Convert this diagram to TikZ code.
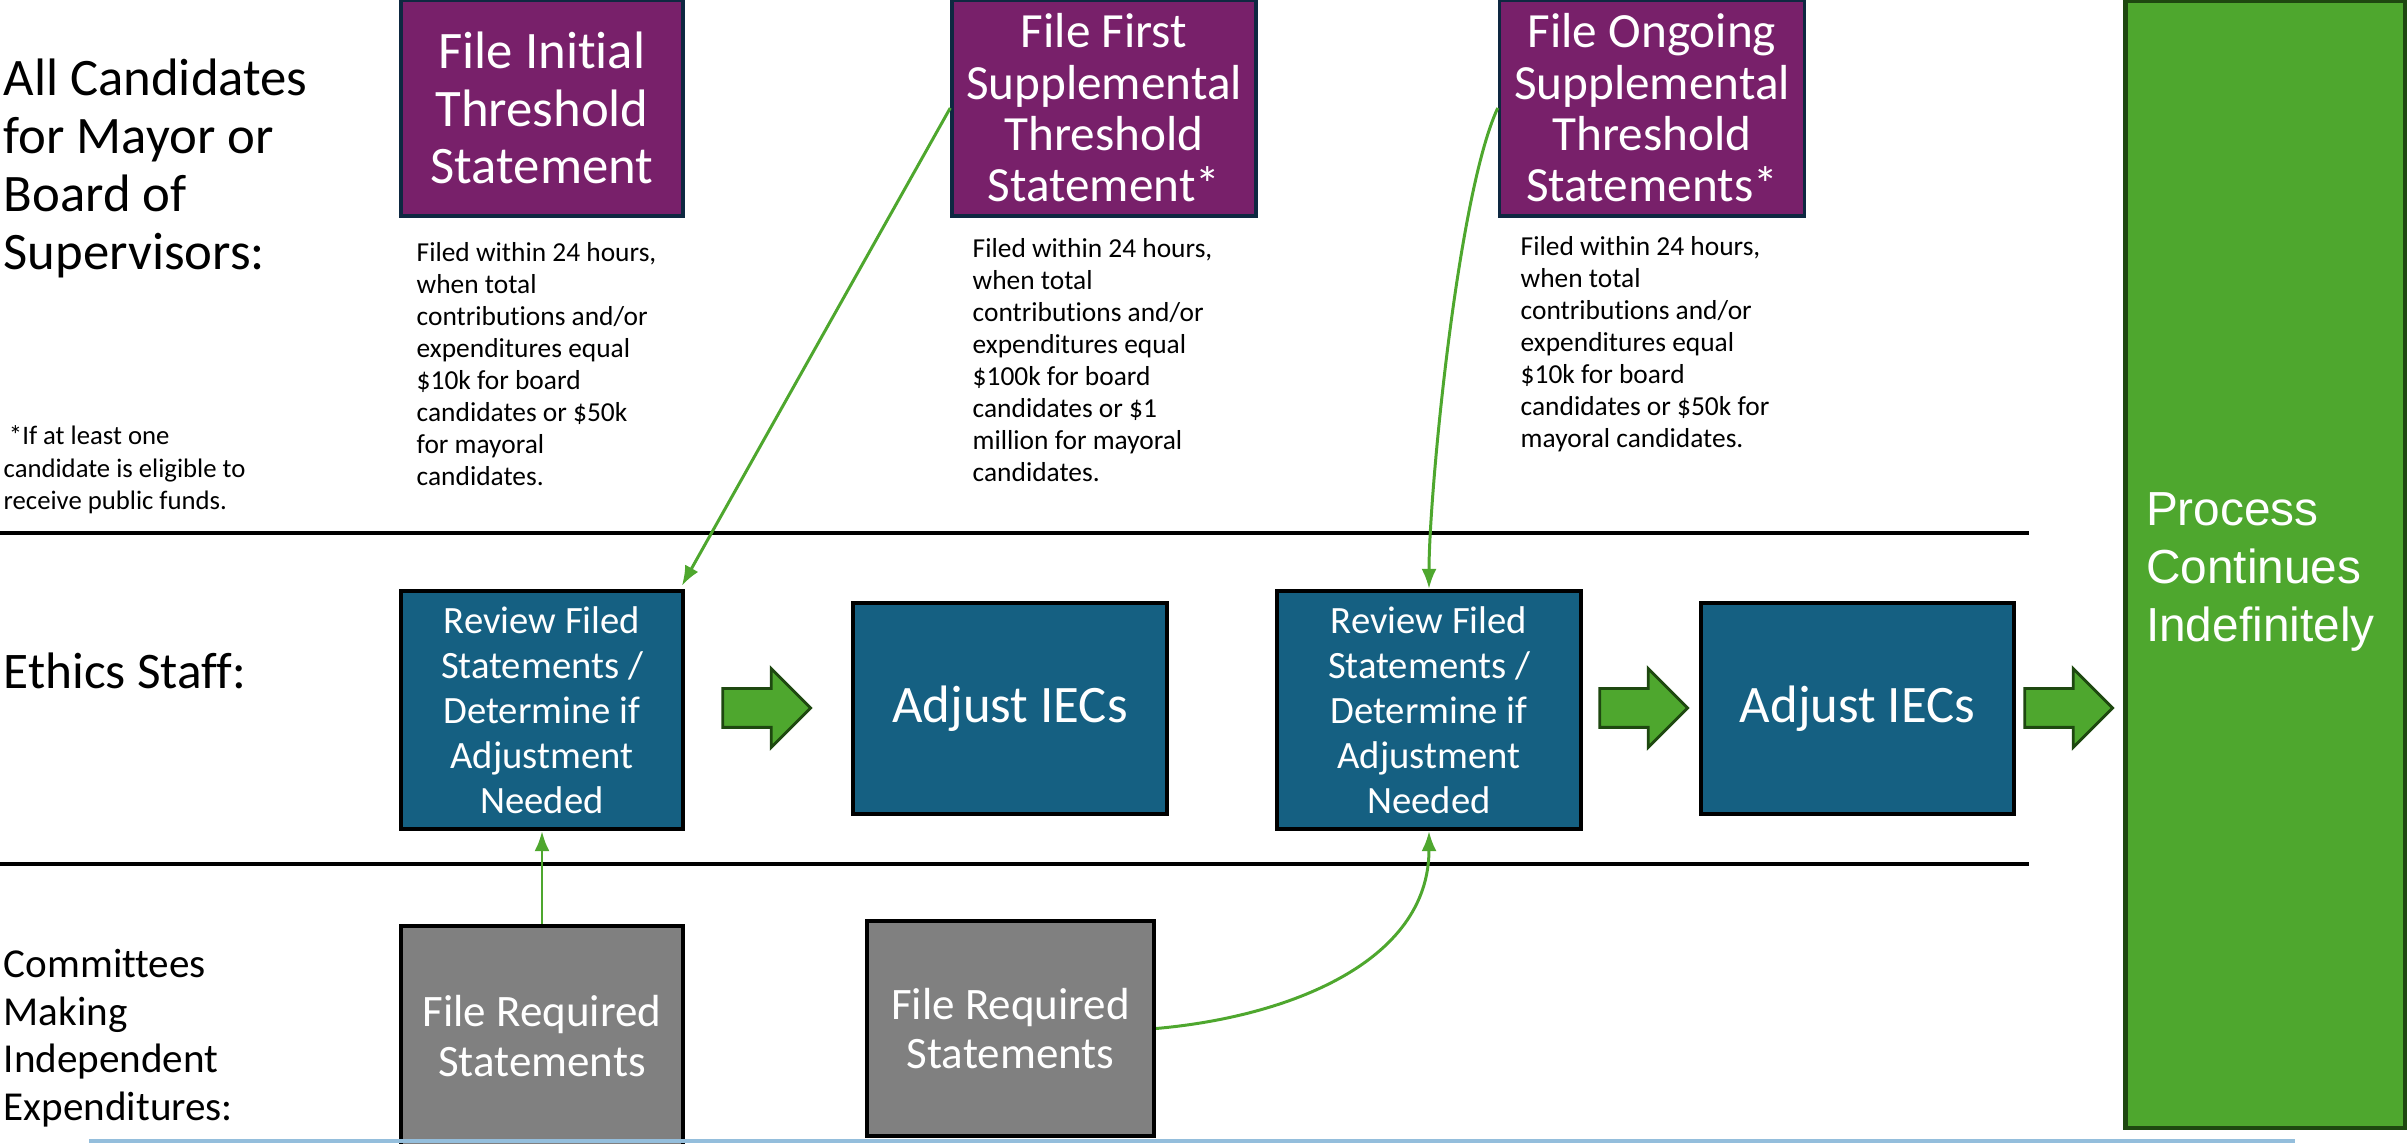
\documentclass[tikz,border=0pt]{standalone}
\usepackage{fontspec}
\setmainfont{Carlito}[Ligatures=CommonOff]
\newfontfamily\procfont{Liberation Sans}
\usepackage{tikz}
\usetikzlibrary{shapes.arrows,arrows.meta,positioning}
\definecolor{ThreshPurple}{RGB}{120,32,106}
\definecolor{ThreshEdge}{RGB}{14,40,65}
\definecolor{StaffBlue}{RGB}{21,96,130}
\definecolor{FileGray}{RGB}{128,128,128}
\definecolor{ProcGreen}{RGB}{78,167,46}
\definecolor{ProcEdge}{RGB}{30,72,16}
\definecolor{BaseBlue}{RGB}{148,190,220}

\begin{document}
\begin{tikzpicture}[
  lane/.style={anchor=west,align=left,inner sep=0pt},
  desc/.style={anchor=west,align=left,inner sep=0pt,font=\fontsize{7.8}{9.1}\selectfont},
  thresh/.style={draw=ThreshEdge,fill=ThreshPurple,line width=1pt,text=white,
                 align=center,inner sep=0pt,minimum height=2.16cm},
  review/.style={draw=black,fill=StaffBlue,line width=1.2pt,text=white,align=center,
                 inner sep=0pt,minimum height=2.38cm,font=\fontsize{11}{12.8}\selectfont},
  adjust/.style={draw=black,fill=StaffBlue,line width=1.2pt,text=white,align=center,
                 inner sep=0pt,minimum height=2.11cm,font=\fontsize{15}{17}\selectfont},
  filebox/.style={draw=black,fill=FileGray,line width=1.2pt,text=white,align=center,
                  inner sep=0pt,font=\fontsize{12.8}{14}\selectfont},
  flow/.style={single arrow,draw=ProcEdge,fill=ProcGreen,line width=0.8pt,
               inner xsep=0pt,inner ysep=0.18cm,single arrow head extend=0.2cm,
               minimum height=0.88cm},
  link/.style={-{Latex[length=2mm,width=1.5mm]},line width=0.85pt,ProcGreen},
  lanesep/.style={line width=1.2pt,black},
]
\useasboundingbox (0,0) rectangle (24.07,-11.44);

\node[lane,font=\fontsize{15}{16.5}\selectfont] (candlab) at (0.03,-1.68)
  {All Candidates\\for Mayor or\\Board of\\Supervisors:};
\node[lane,font=\fontsize{7.6}{9.2}\selectfont] (footnote) at (0.03,-4.70)
  {\hspace{1.5pt}*If at least one\\candidate is eligible to\\receive public funds.};

\node[thresh,minimum width=2.82cm,font=\fontsize{15}{16.3}\selectfont] (initial) at (5.42,-1.08)
  {File Initial\\Threshold\\Statement};
\node[thresh,minimum width=3.04cm,font=\fontsize{14}{14.6}\selectfont] (first) at (11.04,-1.08)
  {File First\\Supplemental\\Threshold\\Statement*};
\node[thresh,minimum width=3.05cm,font=\fontsize{14}{14.6}\selectfont] (ongoing) at (16.52,-1.08)
  {File Ongoing\\Supplemental\\Threshold\\Statements*};

\node[desc] (initialtxt) at (4.16,-3.64)
  {Filed within 24 hours,\\when total\\contributions and/or\\expenditures equal\\\$10k for board\\candidates or \$50k\\for mayoral\\candidates.};
\node[desc] (firsttxt) at (9.72,-3.60)
  {Filed within 24 hours,\\when total\\contributions and/or\\expenditures equal\\\$100k for board\\candidates or \$1\\million for mayoral\\candidates.};
\node[desc] (ongoingtxt) at (15.20,-3.44)
  {Filed within 24 hours,\\when total\\contributions and/or\\expenditures equal\\\$10k for board\\candidates or \$50k for\\mayoral candidates.};

\draw[lanesep] (0,-5.33) -- (20.29,-5.33);
\draw[lanesep] (0,-8.64) -- (20.29,-8.64);

\node[lane,font=\fontsize{14.6}{16.5}\selectfont] (ethicslab) at (0.03,-6.71) {Ethics Staff:};
\node[review,minimum width=2.82cm] (review1) at (5.42,-7.10)
  {Review Filed\\Statements /\\Determine if\\Adjustment\\Needed};
\node[flow] (flow1) at (7.57,-7.08) {};
\node[adjust,minimum width=3.14cm] (adjust1) at (10.10,-7.085) {Adjust IECs};
\node[review,minimum width=3.04cm] (review2) at (14.29,-7.10)
  {Review Filed\\Statements /\\Determine if\\Adjustment\\Needed};
\node[flow] (flow2) at (16.34,-7.08) {};
\node[adjust,minimum width=3.13cm] (adjust2) at (18.575,-7.085) {Adjust IECs};
\node[flow] (flow3) at (20.59,-7.08) {};

\node[draw=ProcEdge,fill=ProcGreen,line width=1.2pt,minimum width=2.80cm,
      minimum height=11.27cm] (process) at (22.655,-5.645) {};
\node[anchor=west,inner sep=0pt,text=white,align=left,
      font=\procfont\fontsize{13.6}{16.5}\selectfont] (proctext)
  at ([xshift=0.22cm,yshift=-0.08cm]process.west) {Process\\Continues\\Indefinitely};

\node[lane,font=\fontsize{11.7}{13.5}\selectfont] (ielab) at (0.03,-10.38)
  {Committees\\Making\\Independent\\Expenditures:};
\node[filebox,minimum width=2.82cm,minimum height=2.2cm] (file1) at (5.42,-10.36)
  {File Required\\Statements};
\node[filebox,minimum width=2.87cm,minimum height=2.15cm] (file2) at (10.105,-10.285)
  {File Required\\Statements};

\draw[BaseBlue,line width=1pt] (0.89,-11.41) -- (22.95,-11.41);

\draw[link,shorten >=1pt] (first.west) -- ([xshift=-0.05cm]review1.north east);
\draw[link] (ongoing.west) to[out=245,in=90,looseness=0.5] (review2.north);
\draw[link] (file1.north) -- (review1.south);
\draw[link] (file2.east) to[out=5,in=-90] (review2.south);
\end{tikzpicture}
\end{document}
